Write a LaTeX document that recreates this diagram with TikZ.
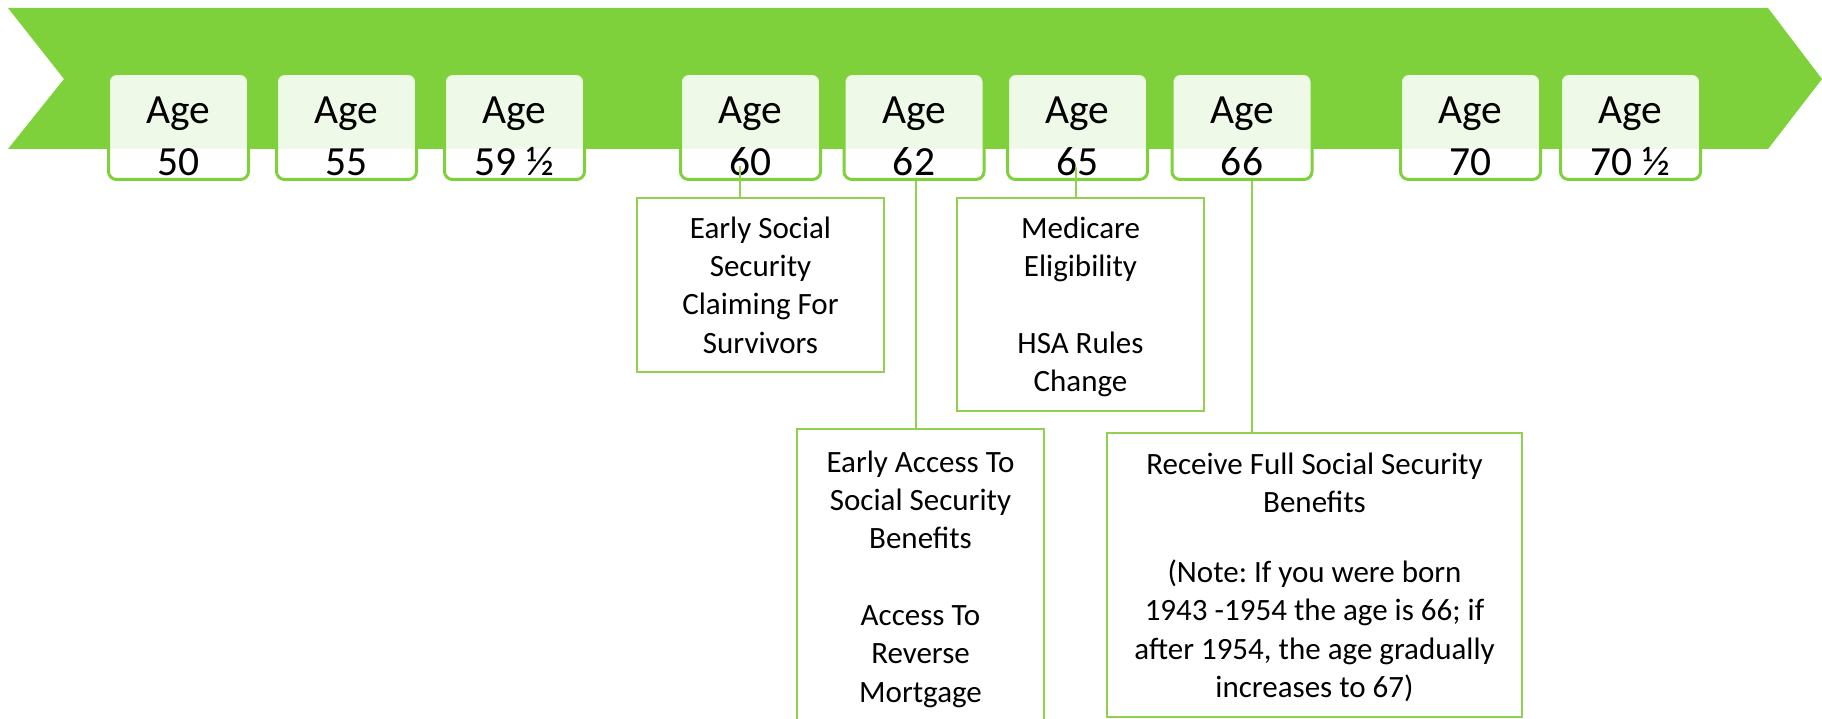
\documentclass[tikz,border=0pt]{standalone}
\usepackage{fontspec}
\setmainfont{Carlito}
\frenchspacing
\definecolor{bannergreen}{HTML}{7FD13B}
\definecolor{linegreen}{HTML}{92D050}
\begin{document}
\begin{tikzpicture}[x=1pt,y=-1pt,
  agebox/.style={draw=bannergreen, line width=3pt, rounded corners=8pt,
    fill=white, fill opacity=0.88, minimum width=140pt, minimum height=106pt,
    inner sep=0pt},
  agetxt/.style={align=center, font=\fontsize{41.5}{52}\selectfont,
    inner sep=0pt, yshift=-10pt},
  infobox/.style={draw=linegreen, line width=2pt, fill=white, align=center,
    inner sep=0pt, text depth=0pt, font=\fontsize{31}{38.3}\selectfont},
  conn/.style={draw=linegreen, line width=2pt}]

\useasboundingbox (0,0) rectangle (1822,719);
\clip (0,0) rectangle (1822,719);

% timeline banner
\fill[bannergreen] (8,8) -- (1768,8) -- (1822,79) -- (1768,149) -- (8,149)
  -- (64,79) -- cycle;

% age milestones
\foreach \n/\x/\t in {a50/178.5/50, a55/346.5/55, a59/514.5/{59 ½},
    a60/750.5/60, a62/914/62, a65/1077.5/65, a66/1242/66, a70/1470.5/70,
    a70h/1630.5/{70 ½}}{
  \node[agebox] (\n) at (\x,126.5) {};
  \node[agetxt] (\n-t) at (\n.center) {Age\\\t};
}

% milestone details
\node[infobox, minimum width=247pt, minimum height=174pt] (ess) at (760.5,285)
  {Early Social\\Security\\Claiming For\\Survivors};
\node[infobox, minimum width=247pt, minimum height=213pt] (med) at (1080.5,304.5)
  {Medicare\\Eligibility\\[38.3pt]HSA Rules\\Change};
\node[infobox, minimum width=247pt, minimum height=295pt] (eas) at (920.5,576.5)
  {Early Access To\\Social Security\\Benefits\\[38.3pt]Access To\\Reverse\\Mortgage};
\node[infobox, minimum width=415pt, minimum height=284pt] (rfs) at (1314.5,575)
  {Receive Full Social Security\\Benefits\\[32pt](Note: If you were born\\1943 -1954 the age is 66; if\\after 1954, the age gradually\\increases to 67)};

% connectors
\coordinate (t60) at (740,166);
\coordinate (t62) at (916,181);
\coordinate (t65) at (1076,167);
\coordinate (t66) at (1252,181);
\draw[conn] (t60) -- (t60 |- ess.north);
\draw[conn] (t62) -- (t62 |- eas.north);
\draw[conn] (t65) -- (t65 |- med.north);
\draw[conn] (t66) -- (t66 |- rfs.north);
\end{tikzpicture}
\end{document}
